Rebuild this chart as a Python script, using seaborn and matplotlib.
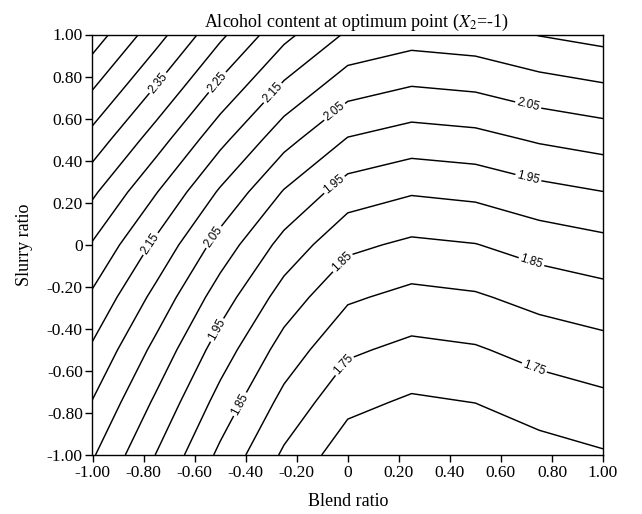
import numpy as np
import matplotlib
matplotlib.use("Agg")
import matplotlib.pyplot as plt
import seaborn as sns

# Grid coordinates (coded levels)
blend_ratio = [-1.00, -0.75, -0.50, -0.25, 0.00, 0.25, 0.50, 0.75, 1.00]
slurry_ratio = [-1.00, -0.75, -0.50, -0.25, 0.00, 0.25, 0.50, 0.75, 1.00]

# Alcohol content (rows: slurry ratio -1 -> 1, cols: blend ratio -1 -> 1)
alc_ym100 = [2.055, 1.948, 1.839, 1.742, 1.671, 1.651, 1.658, 1.680, 1.695]
alc_ym075 = [2.0975, 1.9905, 1.8815, 1.7845, 1.7135, 1.6925, 1.7005, 1.7225, 1.7375]
alc_ym050 = [2.142, 2.035, 1.926, 1.829, 1.758, 1.737, 1.745, 1.767, 1.782]
alc_ym025 = [2.191, 2.084, 1.975, 1.878, 1.807, 1.786, 1.794, 1.816, 1.831]
alc_y000 = [2.2455, 2.1385, 2.0295, 1.9325, 1.8615, 1.8405, 1.8485, 1.8705, 1.8855]
alc_yp025 = [2.309, 2.202, 2.093, 1.996, 1.925, 1.904, 1.912, 1.934, 1.949]
alc_yp050 = [2.3805, 2.2735, 2.1645, 2.0675, 1.9965, 1.9755, 1.9835, 2.0055, 2.0205]
alc_yp075 = [2.454, 2.347, 2.238, 2.141, 2.070, 2.049, 2.057, 2.079, 2.094]
alc_yp100 = [2.527, 2.420, 2.311, 2.214, 2.143, 2.122, 2.130, 2.152, 2.167]

plain_levels = [1.70, 1.80, 1.90, 2.00, 2.10, 2.20, 2.30, 2.40, 2.45, 2.50]
labelled_levels = [1.75, 1.85, 1.95, 2.05, 2.15, 2.25, 2.35]

tick_values = [-1.0, -0.8, -0.6, -0.4, -0.2, 0.0, 0.2, 0.4, 0.6, 0.8, 1.0]
tick_labels = ["-1.00", "-0.80", "-0.60", "-0.40", "-0.20", "0",
               "0.20", "0.40", "0.60", "0.80", "1.00"]

# where the contour labels sit (data coordinates)
label_spots = [(-0.749, 0.775), (-0.513, 0.775), (-0.292, 0.72), (-0.057, 0.641),
               (-0.057, 0.292), (-0.768, 0.0), (-0.527, 0.038), (-0.513, -0.405),
               (-0.429, -0.754), (-0.017, -0.088), (-0.024, -0.564),
               (0.707, 0.665), (0.707, 0.316), (0.72, -0.08), (0.727, -0.596)]

Z = np.array([alc_ym100, alc_ym075, alc_ym050, alc_ym025, alc_y000,
              alc_yp025, alc_yp050, alc_yp075, alc_yp100])

sns.set_theme(style="ticks")
plt.rcParams['font.family'] = ['Liberation Serif', 'DejaVu Serif']
plt.rcParams['mathtext.fontset'] = 'stix'

fig = plt.figure(figsize=(6.42, 5.14), dpi=100)
ax = fig.add_axes([92.5 / 642, 1 - 455 / 514, (603 - 92.5) / 642, (455 - 34.5) / 514])

ax.contour(blend_ratio, slurry_ratio, Z, levels=plain_levels,
           colors='black', linewidths=1.05)
cs_lab = ax.contour(blend_ratio, slurry_ratio, Z, levels=labelled_levels,
                    colors='black', linewidths=1.05)
texts = ax.clabel(cs_lab, manual=label_spots, fmt='%.2f',
                  fontsize=8.5, inline=True, inline_spacing=3)
for t in texts:
    t.set_fontfamily(['Liberation Sans', 'DejaVu Sans'])

ax.set_xlim(-1, 1)
ax.set_ylim(-1, 1)
ax.set_xticks(tick_values)
ax.set_xticklabels(tick_labels, fontsize=12.5)
ax.set_yticks(tick_values)
ax.set_yticklabels(tick_labels, fontsize=12.5)
ax.tick_params(direction='out', length=5, width=1, colors='black', pad=2)
for s in ax.spines.values():
    s.set_color('black')
    s.set_linewidth(1.0)

ax.set_xlabel('Blend ratio', fontsize=13, labelpad=9, color='black')
ax.set_ylabel('Slurry ratio', fontsize=13, labelpad=10, color='black')
fig.text(356 / 642, 1 - 22 / 514, 'Alcohol content at optimum point ($X_2$=-1)',
         ha='center', va='center', fontsize=13, color='black')

fig.savefig('out.png', dpi=100, facecolor='white')
